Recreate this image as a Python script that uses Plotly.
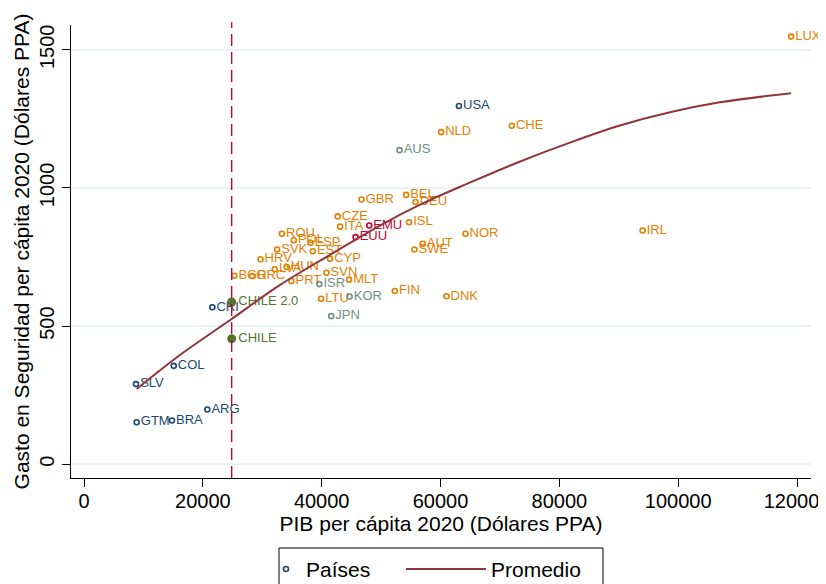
import plotly.graph_objects as go

# ---- data ----
countries = ["LUX", "IRL", "USA", "CHE", "NLD", "AUS", "BEL", "DEU", "GBR", "CZE",
             "ITA", "EMU", "EUU", "ISL", "NOR", "AUT", "SWE", "CYP", "SVN", "MLT",
             "ISR", "FIN", "KOR", "DNK", "LTU", "JPN", "ESP", "EST", "POL", "ROU",
             "SVK", "HRV", "LVA", "HUN", "PRT", "BGR", "GRC", "CHILE 2.0", "CHILE",
             "CRI", "COL", "SLV", "ARG", "GTM", "BRA"]
gdp = [119000, 94000, 63100, 72000, 60100, 53100, 54200, 55800, 46700, 42700,
       43100, 48000, 45700, 54700, 64200, 57000, 55600, 41400, 40800, 44600,
       39600, 52300, 44700, 61000, 39900, 41600, 38100, 38500, 35300, 33300,
       32500, 29700, 32100, 34100, 34900, 25300, 28300, 24850, 24850,
       21600, 15100, 8750, 20750, 8860, 14800]
gasto = [1548, 846, 1297, 1225, 1202, 1137, 975, 949, 958, 897,
         860, 864, 822, 876, 834, 798, 777, 744, 693, 668,
         652, 627, 607, 608, 599, 536, 802, 771, 811, 834,
         777, 742, 706, 714, 663, 682, 681, 587, 454,
         568, 356, 290, 198, 152, 158]
group = ["oecd", "oecd", "amer", "oecd", "oecd", "asia", "oecd", "oecd", "oecd", "oecd",
         "oecd", "eu", "eu", "oecd", "oecd", "oecd", "oecd", "oecd", "oecd", "oecd",
         "asia", "oecd", "asia", "oecd", "oecd", "asia", "oecd", "oecd", "oecd", "oecd",
         "oecd", "oecd", "oecd", "oecd", "oecd", "oecd", "oecd", "chile", "chile",
         "amer", "amer", "amer", "amer", "amer", "amer"]

# average curve, points
curve_x = [8870, 16200, 24600, 33000, 41400, 49800, 57000, 65000, 73400, 82000, 90200, 98600, 107000, 119000]
curve_y = [272, 396, 522, 649, 758, 864, 944, 1020, 1096, 1166, 1226, 1274, 1310, 1343]

chile_gdp = 24850

x_ticks = [0, 20000, 40000, 60000, 80000, 100000, 120000]
y_ticks = [0, 500, 1000, 1500]

# ---- styles ----
colors = {"oecd": "#e37e00", "amer": "#1a476f", "asia": "#6e8e84",
          "eu": "#c10534", "chile": "#55752f"}
FONT = "Liberation Sans, Arial, Helvetica, sans-serif"

fig = go.Figure()

for g in ["oecd", "asia", "eu", "amer", "chile"]:
    idx = [i for i, gg in enumerate(group) if gg == g]
    if g == "chile":
        marker = dict(symbol="circle", size=9, color=colors[g])
    else:
        marker = dict(symbol="circle-open", size=5, color=colors[g],
                      line=dict(width=1.6, color=colors[g]))
    fig.add_trace(go.Scatter(
        x=[gdp[i] for i in idx], y=[gasto[i] for i in idx],
        text=[countries[i] for i in idx],
        mode="markers+text", textposition="middle right",
        textfont=dict(family=FONT, size=13, color=colors[g]),
        marker=marker, cliponaxis=False,
        showlegend=(g == "amer"), name="Países", legend="legend",
        hoverinfo="x+y+text"))

fig.add_trace(go.Scatter(
    x=curve_x, y=curve_y, mode="lines",
    line=dict(color="#90353b", width=2, shape="spline", smoothing=1.0),
    name="Promedio", legend="legend2"))

fig.add_shape(type="line", xref="x", yref="paper", x0=chile_gdp, x1=chile_gdp, y0=0, y1=1.006,
              line=dict(color="#c10534", width=1.4, dash="12px,6px"))

# legend frame enclosing both legend entries
fig.add_shape(type="rect", xref="paper", yref="paper", x0=0.2811, x1=0.7189, y0=-0.1545, y1=-0.27,
              line=dict(color="black", width=1), fillcolor="rgba(0,0,0,0)", layer="above")

fig.update_layout(
    width=818, height=576,
    margin=dict(l=63, r=15, t=17, b=106, autoexpand=False),
    paper_bgcolor="white", plot_bgcolor="white",
    font=dict(family=FONT, color="black", size=20),
    legend=dict(orientation="h", x=0.2635, xanchor="left", y=-0.1565, yanchor="top",
                borderwidth=0, bgcolor="rgba(0,0,0,0)", font=dict(size=21), itemwidth=30),
    legend2=dict(orientation="h", x=0.4459, xanchor="left", y=-0.1565, yanchor="top",
                 borderwidth=0, bgcolor="rgba(0,0,0,0)", font=dict(size=21), itemwidth=80),
    xaxis=dict(range=[-2190, 122350], tickvals=x_ticks, ticktext=[str(v) for v in x_ticks],
               automargin=False, ticklabeloverflow="allow", ticklabelstandoff=-3,
               showgrid=False, zeroline=False, showline=True, linecolor="black", linewidth=1,
               ticks="outside", ticklen=8, tickcolor="black", tickfont=dict(size=20),
               title=dict(text="PIB per cápita 2020 (Dólares PPA)", font=dict(size=21), standoff=2)),
    yaxis=dict(range=[-50, 1590], tickvals=y_ticks, ticktext=[str(v) for v in y_ticks],
               tickangle=-90, automargin=False, ticklabeloverflow="allow",
               showgrid=True, gridcolor="#eaf2f3", gridwidth=1.5, zeroline=False,
               showline=True, linecolor="black", linewidth=1,
               ticks="outside", ticklen=8, tickcolor="black", tickfont=dict(size=20),
               title=dict(text="Gasto en Seguridad per cápita 2020 (Dólares PPA)",
                          font=dict(size=21), standoff=0)),
)

fig.write_html("out.html")
